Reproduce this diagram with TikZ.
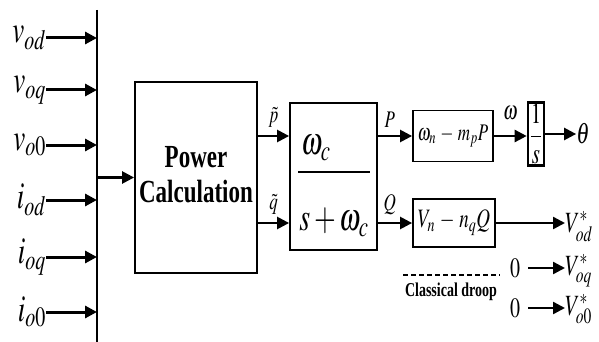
\documentclass[tikz,border=0pt]{standalone}
\usepackage{mathptmx}
\usepackage[no-math]{fontspec}
\setmainfont{Liberation Serif}
\usepackage{graphicx}
\usetikzlibrary{arrows.meta, calc}
\newcommand{\tall}[1]{\scalebox{1}[1.4]{#1}}

\begin{document}
\begin{tikzpicture}[x=1pt, y=-1pt,
    arr/.style={line width=2.4pt, -{Triangle[length=12pt, width=12pt]}},
    blk/.style={draw, line width=1.8pt, inner sep=0pt},
    lbl/.style={inner sep=0pt, font=\fontsize{17}{17}\selectfont}]
  \useasboundingbox (0,0) rectangle (599,342);

  % measurement bus
  \draw[line width=1.8pt] (97,10) coordinate (bustop) -- (97,342);
  \foreach \sig/\yy [count=\k] in {v_{od}/38, v_{oq}/90, v_{o0}/145, i_{od}/200, i_{oq}/257, i_{o0}/312} {
    \node[inner sep=0pt, anchor=east, font=\fontsize{27}{27}\selectfont] (in\k) at (46,\yy) {\tall{$\sig$}};
    \draw[arr, line width=3pt] (in\k.east) -- (in\k.east -| bustop);
  }

  \node[blk, minimum width=122pt, minimum height=191pt, font=\fontsize{23}{25}\selectfont\bfseries] (pc) at (196,177.5)
    {\tall{\begin{tabular}{@{}c@{}}Power\\Calculation\end{tabular}}};
  \draw[arr] (pc.west -| bustop) -- (pc.west);

  \coordinate (prow) at (0,136);
  \coordinate (qrow) at (0,223);

  % low-pass filter
  \node[blk, minimum width=87pt, minimum height=147pt] (lpf) at (333.5,176.5) {};
  \node[lbl, font=\fontsize{28}{28}\selectfont] (num) at (316,148) {\tall{$\omega_c$}};
  \draw[line width=2pt] (298,172) -- (370,172);
  \node[lbl, font=\fontsize{28}{28}\selectfont] (den) at (334,222) {\tall{$s+\omega_c$}};
  \draw[arr] (pc.east |- prow) -- (lpf.west |- prow) node[lbl, midway, above=7pt] {\tall{$\tilde{p}$}};
  \draw[arr] (pc.east |- qrow) -- (lpf.west |- qrow) node[lbl, midway, above=7pt] {\tall{$\tilde{q}$}};

  % droop
  \node[blk, minimum width=80pt, minimum height=51pt, font=\fontsize{17}{17}\selectfont] (pdr) at (453,136) {\tall{$\omega_n \,-\, m_p P$}};
  \node[blk, minimum width=82pt, minimum height=48pt, font=\fontsize{19}{19}\selectfont] (qdr) at (454,223) {\tall{$V_n \,-\, n_q Q$}};
  \draw[arr] (lpf.east |- prow) -- (pdr.west |- prow) node[lbl, pos=0.35, above=7pt] {\tall{$P$}};
  \draw[arr] (lpf.east |- qrow) -- (qdr.west |- qrow) node[lbl, pos=0.35, above=7pt] {\tall{$Q$}};

  \node[draw, line width=2.6pt, inner sep=0pt, minimum width=16pt, minimum height=63pt, font=\fontsize{21}{21}\selectfont] (integ) at (536,134)
    {\tall{$\displaystyle\frac{1}{s}$}};
  \node[lbl, font=\fontsize{21}{21}\selectfont] (th) at (583,134) {\tall{$\theta$}};
  \draw[arr] (pdr.east) -- (pdr.east -| integ.west) node[lbl, midway, above=15pt, font=\fontsize{19}{19}\selectfont] {\tall{$\omega$}};
  \draw[arr] (integ.east) -- (th.west);

  % voltage references
  \node[lbl, anchor=base west, font=\fontsize{21}{21}\selectfont] (vod) at (565,232) {\tall{$V^*_{od}$}};
  \node[lbl, anchor=base west, font=\fontsize{21}{21}\selectfont] (voq) at (565,275) {\tall{$V^*_{oq}$}};
  \node[lbl, anchor=base west, font=\fontsize{21}{21}\selectfont] (vo0) at (565,315) {\tall{$V^*_{o0}$}};
  \node[lbl, inner xsep=8pt, font=\fontsize{20}{20}\selectfont] (z1) at (515,268) {\tall{$0$}};
  \node[lbl, inner xsep=8pt, font=\fontsize{20}{20}\selectfont] (z2) at (515,308) {\tall{$0$}};
  \draw[arr] (qdr.east) -- (qdr.east -| vod.west);
  \draw[arr] (z1.east) -- (z1.east -| voq.west);
  \draw[arr] (z2.east) -- (z2.east -| vo0.west);

  \draw[line width=2pt, dash pattern=on 5pt off 3pt] (403,275) -- (500,275);
  \node[lbl, font=\fontsize{14}{14}\selectfont\bfseries] (cd) at (451,292) {\tall{Classical droop}};
\end{tikzpicture}
\end{document}
